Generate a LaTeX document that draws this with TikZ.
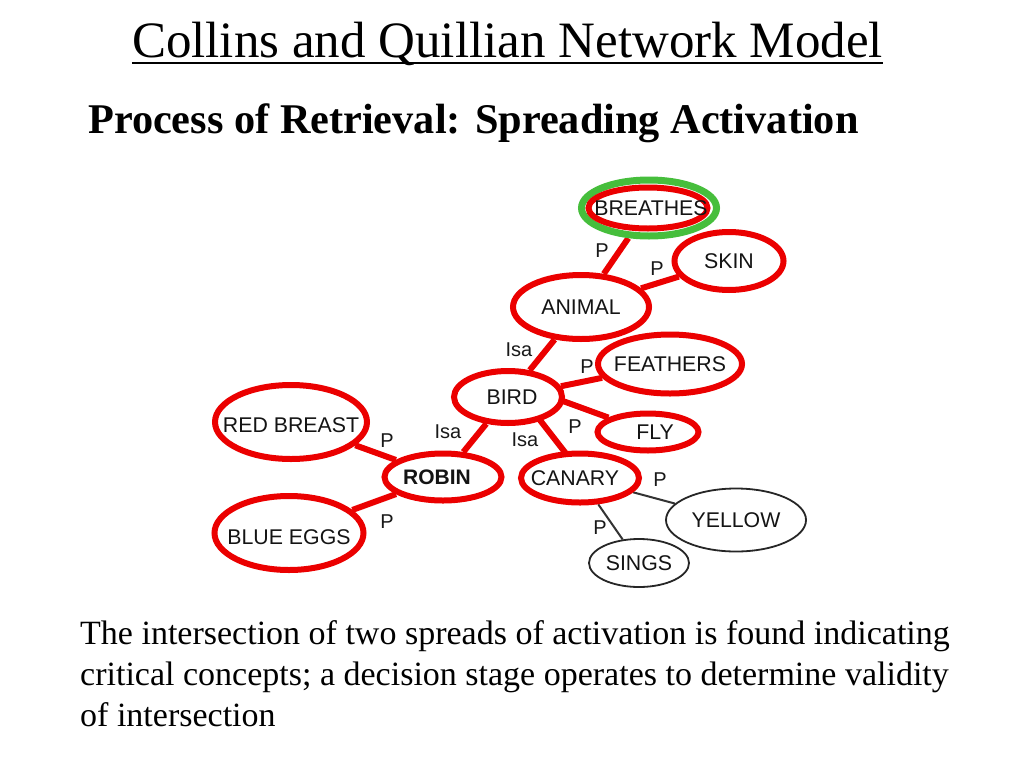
\documentclass[tikz,border=0pt]{standalone}
\usepackage{fontspec}
\setmainfont{Liberation Serif}
\setsansfont{Liberation Sans}
\usetikzlibrary{shapes.geometric}
\definecolor{hired}{RGB}{235,0,0}
\definecolor{higreen}{RGB}{70,190,60}
\pgfdeclarelayer{bg}
\pgfsetlayers{bg,main}
\begin{document}
\begin{tikzpicture}[x=1pt,y=-1pt,
  redell/.style={ellipse, draw=hired, line width=6pt, fill=white, inner sep=0pt},
  blkell/.style={ellipse, draw=black!85, line width=1.8pt, fill=white, inner sep=0pt},
  every label/.style={font=\sffamily\fontsize{21.3}{23}\selectfont, inner sep=0pt, text=black!92},
  redlink/.style={draw=hired, line width=6pt},
  blklink/.style={draw=black!80, line width=2pt},
  lbl/.style={font=\sffamily\fontsize{20}{22}\selectfont, inner sep=0pt, text=black!90},
  captionline/.style={font=\fontsize{34}{41}\selectfont, anchor=base west, inner sep=0pt}
]
\begin{pgfonlayer}{bg}
\path[use as bounding box, fill=white] (0,0) rectangle (1024,768);
\end{pgfonlayer}

% titles
\node[font=\fontsize{51}{60}\selectfont, anchor=base, inner sep=0pt] (title) at (507.5,57) {Collins and Quillian Network Model};
\draw[line width=2.5pt] ([yshift=-6pt]title.base west) -- ([yshift=-6pt]title.base east);
\node[font=\bfseries\fontsize{42.3}{50}\selectfont, anchor=base west, inner sep=0pt] (sub) at (88,133) {Process of Retrieval: Spreading Activation};

% edge labels (drawn before the nodes so that the nodes may cover them)
\node[lbl] (lP1) at (602,251) {P};
\node[lbl] (lP2) at (657,269) {P};
\node[lbl] (lIsa1) at (519,350) {Isa};
\node[lbl] (lP3) at (587,367) {P};
\node[lbl] (lP4) at (575,427) {P};
\node[lbl] (lIsa2) at (448,432) {Isa};
\node[lbl] (lIsa3) at (525,440) {Isa};
\node[lbl] (lP5) at (387,441) {P};
\node[lbl] (lP6) at (387,522) {P};
\node[lbl] (lP7) at (660,480) {P};
\node[lbl] (lP8) at (600,528) {P};

% concept nodes
\node[ellipse, draw=higreen, line width=7pt, fill=white, inner sep=0pt, minimum width=135pt, minimum height=56pt] (breathesG) at (649,208) {};
\node[redell, minimum width=119pt, minimum height=41pt, label={[xshift=3pt]center:BREATHES}] (breathes) at (648,208) {};
\node[redell, minimum width=109pt, minimum height=58pt, label={center:SKIN}] (skin) at (729,261) {};
\node[redell, minimum width=136pt, minimum height=64pt, label={center:ANIMAL}] (animal) at (581,307) {};
\node[redell, minimum width=144pt, minimum height=59pt, label={center:FEATHERS}] (feathers) at (670,364) {};
\node[redell, minimum width=108pt, minimum height=52pt, label={[xshift=4pt]center:BIRD}] (bird) at (508,397) {};
\node[redell, minimum width=101pt, minimum height=37pt, label={[xshift=7pt]center:FLY}] (fly) at (648,432) {};
\node[redell, minimum width=152pt, minimum height=74pt, label={[yshift=-3pt]center:RED BREAST}] (redbreast) at (291,422) {};
\node[redell, minimum width=117pt, minimum height=47pt, label={[xshift=-6pt, font=\sffamily\bfseries\fontsize{21}{23}\selectfont]center:ROBIN}] (robin) at (443,477) {};
\node[redell, minimum width=118pt, minimum height=49pt, label={[xshift=-5pt]center:CANARY}] (canary) at (580,478) {};
\node[redell, minimum width=149pt, minimum height=74pt, label={[yshift=-4pt]center:BLUE EGGS}] (blueeggs) at (289,533) {};
\node[blkell, minimum width=140pt, minimum height=63pt, label={center:YELLOW}] (yellow) at (736,520) {};
\node[blkell, minimum width=100pt, minimum height=48pt, label={center:SINGS}] (sings) at (639,563) {};

% connectors (behind the nodes)
\begin{pgfonlayer}{bg}
\draw[redlink] (breathesG) -- (animal);
\draw[redlink] (animal) -- (skin);
\draw[redlink] (animal) -- (bird);
\draw[redlink] (bird) -- (feathers);
\draw[redlink] ([yshift=16pt]bird.center) -- (fly);
\draw[redlink] (bird) -- (robin);
\draw[redlink] ([xshift=14pt]bird.center) -- ([xshift=5pt]canary.center);
\draw[redlink] (robin) -- (redbreast);
\draw[redlink] (robin) -- (blueeggs);
\draw[blklink] (canary) -- (yellow);
\draw[blklink] (canary) -- (sings);
\end{pgfonlayer}

% caption
\node[captionline] (cap1) at (80,644) {The intersection of two spreads of activation is found indicating};
\node[captionline] (cap2) at (80,685) {critical concepts; a decision stage operates to determine validity};
\node[captionline] (cap3) at (80,726) {of intersection};
\end{tikzpicture}
\end{document}
